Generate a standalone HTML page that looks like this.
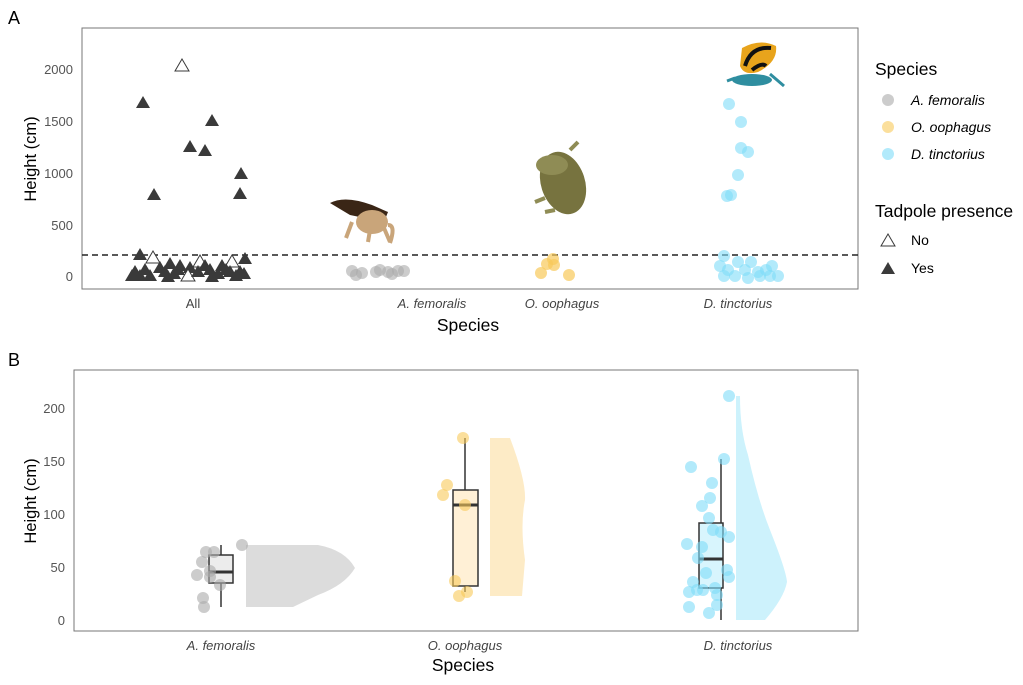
<!DOCTYPE html>
<html><head><meta charset="utf-8"><style>
html,body{margin:0;padding:0;background:#fff}
svg{display:block;font-family:"Liberation Sans",sans-serif}
</style></head><body>
<svg width="1023" height="685" viewBox="0 0 1023 685" xmlns="http://www.w3.org/2000/svg">
<defs>
<path id="tf" d="M0,-7 L7,5 L-7,5 Z" fill="#3a3a3a"/>
<path id="to" d="M0,-7 L7,5 L-7,5 Z" fill="#fff" stroke="#3a3a3a" stroke-width="1"/>
</defs>
<!-- Panel A -->
<text x="8" y="24" font-size="18">A</text>
<rect x="82" y="28" width="776" height="261" fill="none" stroke="#777" stroke-width="1"/>
<g font-size="13" fill="#555" text-anchor="end">
<text x="73" y="74">2000</text><text x="73" y="126">1500</text><text x="73" y="178">1000</text><text x="73" y="230">500</text><text x="73" y="281">0</text>
</g>
<text transform="translate(36,159) rotate(-90)" font-size="16.5" text-anchor="middle">Height (cm)</text>
<g font-size="13" fill="#444" text-anchor="middle">
<text x="193" y="308">All</text>
<text x="432" y="308" font-style="italic">A. femoralis</text>
<text x="562" y="308" font-style="italic">O. oophagus</text>
<text x="738" y="308" font-style="italic">D. tinctorius</text>
</g>
<text x="468" y="331" font-size="17.5" text-anchor="middle">Species</text>
<line x1="82" y1="255" x2="858" y2="255" stroke="#222" stroke-width="1.6" stroke-dasharray="6,4"/>
<use href="#to" x="182" y="66"/>
<use href="#tf" x="143" y="103"/>
<use href="#tf" x="212" y="121"/><use href="#tf" x="190" y="147"/><use href="#tf" x="205" y="151"/>
<use href="#tf" x="241" y="174"/><use href="#tf" x="154" y="195"/><use href="#tf" x="240" y="194"/>
<use href="#tf" x="140" y="255"/><use href="#to" x="153" y="258"/><use href="#tf" x="245" y="259"/>
<g>
<use href="#tf" x="135" y="272"/><use href="#tf" x="145" y="270"/><use href="#tf" x="160" y="268"/><use href="#tf" x="170" y="264"/>
<use href="#tf" x="180" y="266"/><use href="#tf" x="190" y="268"/><use href="#to" x="200" y="262"/><use href="#tf" x="210" y="270"/>
<use href="#tf" x="222" y="266"/><use href="#to" x="232" y="262"/><use href="#tf" x="240" y="272"/><use href="#tf" x="150" y="276"/>
<use href="#tf" x="178" y="270"/><use href="#to" x="188" y="276"/><use href="#tf" x="198" y="272"/><use href="#tf" x="218" y="274"/>
<use href="#tf" x="230" y="272"/><use href="#tf" x="244" y="274"/><use href="#tf" x="165" y="272"/><use href="#tf" x="205" y="266"/>
<use href="#tf" x="140" y="276"/><use href="#tf" x="236" y="276"/><use href="#tf" x="174" y="274"/>
<use href="#tf" x="132" y="276"/><use href="#tf" x="168" y="277"/><use href="#tf" x="212" y="277"/><use href="#tf" x="226" y="270"/>
</g>
<g fill="#aaa" fill-opacity="0.6">
<circle cx="352" cy="271" r="6"/><circle cx="356" cy="275" r="6"/><circle cx="362" cy="273" r="6"/><circle cx="376" cy="272" r="6"/><circle cx="380" cy="270" r="6"/><circle cx="388" cy="272" r="6"/><circle cx="392" cy="274" r="6"/><circle cx="398" cy="271" r="6"/><circle cx="404" cy="271" r="6"/>
</g>
<g fill="#f8c95a" fill-opacity="0.7">
<circle cx="541" cy="273" r="6"/><circle cx="547" cy="264" r="6"/><circle cx="553" cy="259" r="6"/><circle cx="554" cy="265" r="6"/><circle cx="569" cy="275" r="6"/>
</g>
<g fill="#7fdcf8" fill-opacity="0.6">
<circle cx="729" cy="104" r="6"/><circle cx="741" cy="122" r="6"/><circle cx="741" cy="148" r="6"/><circle cx="748" cy="152" r="6"/><circle cx="738" cy="175" r="6"/><circle cx="727" cy="196" r="6"/><circle cx="731" cy="195" r="6"/>
<circle cx="724" cy="256" r="6"/><circle cx="720" cy="266" r="6"/><circle cx="728" cy="270" r="6"/><circle cx="738" cy="262" r="6"/><circle cx="745" cy="270" r="6"/><circle cx="751" cy="262" r="6"/><circle cx="758" cy="272" r="6"/><circle cx="766" cy="270" r="6"/><circle cx="772" cy="266" r="6"/><circle cx="770" cy="276" r="6"/><circle cx="724" cy="276" r="6"/><circle cx="735" cy="276" r="6"/><circle cx="748" cy="278" r="6"/><circle cx="760" cy="276" r="6"/><circle cx="778" cy="276" r="6"/>
</g>
<g>
<path d="M330,203 Q345,195 372,205 L388,212 L384,222 L350,215 Z" fill="#3a2616"/>
<ellipse cx="372" cy="222" rx="16" ry="12" fill="#c9a57a"/>
<path d="M352,222 l-6,16 M370,230 l-2,12 M384,228 l6,14 M388,225 q8,0 2,18" stroke="#c9a57a" stroke-width="4" fill="none"/>
<ellipse cx="563" cy="183" rx="22" ry="32" fill="#77733f" transform="rotate(-18 563 183)"/>
<ellipse cx="552" cy="165" rx="16" ry="10" fill="#8f8c55"/>
<path d="M570,150 l8,-8 M545,198 l-10,4 M555,210 l-10,2" stroke="#8f8c55" stroke-width="4"/>
<path d="M742,48 Q760,38 776,46 Q778,62 758,72 Q744,76 740,66 Z" fill="#e8a41c"/>
<path d="M745,66 q6,-20 26,-18 M752,70 q10,-8 14,-4" stroke="#111" stroke-width="4" fill="none"/>
<ellipse cx="752" cy="80" rx="20" ry="6" fill="#2f8ea0"/>
<path d="M770,74 l14,12 M735,78 l-8,3" stroke="#2f8ea0" stroke-width="3"/>
</g>
<!-- Legend -->
<text x="875" y="75" font-size="17.5">Species</text>
<circle cx="888" cy="100" r="6" fill="#aaa" fill-opacity="0.6"/>
<circle cx="888" cy="127" r="6" fill="#f8c95a" fill-opacity="0.6"/>
<circle cx="888" cy="154" r="6" fill="#7fdcf8" fill-opacity="0.6"/>
<g font-size="14" font-style="italic">
<text x="911" y="105">A. femoralis</text><text x="911" y="132">O. oophagus</text><text x="911" y="159">D. tinctorius</text>
</g>
<text x="875" y="217" font-size="17.5">Tadpole presence</text>
<use href="#to" x="888" y="241"/><use href="#tf" x="888" y="269"/>
<text x="911" y="245" font-size="14">No</text><text x="911" y="273" font-size="14">Yes</text>

<!-- Panel B -->
<text x="8" y="366" font-size="18">B</text>
<rect x="74" y="370" width="784" height="261" fill="none" stroke="#777" stroke-width="1"/>
<g font-size="13" fill="#555" text-anchor="end">
<text x="65" y="413">200</text><text x="65" y="466">150</text><text x="65" y="519">100</text><text x="65" y="572">50</text><text x="65" y="625">0</text>
</g>
<text transform="translate(36,501) rotate(-90)" font-size="16.5" text-anchor="middle">Height (cm)</text>
<g font-size="13" fill="#444" text-anchor="middle" font-style="italic">
<text x="221" y="650">A. femoralis</text><text x="465" y="650">O. oophagus</text><text x="738" y="650">D. tinctorius</text>
</g>
<text x="463" y="671" font-size="17.5" text-anchor="middle">Species</text>
<path d="M246,545 L318,545 Q345,550 355,568 Q345,585 318,595 L293,607 L246,607 Z" fill="#dcdcdc"/>
<path d="M490,438 L510,438 Q526,480 525,500 Q520,525 525,560 L522,596 L490,596 Z" fill="#fdebc6"/>
<path d="M736,620 L736,396 L740,396 Q740,430 748,455 Q758,500 770,530 Q786,570 787,582 Q784,598 765,620 Z" fill="#cdf2fc"/>
<g stroke="#333" stroke-width="1.5">
<line x1="221" y1="545" x2="221" y2="607"/>
<rect x="209" y="555" width="24" height="28" fill="#ececec"/>
<line x1="209" y1="572" x2="233" y2="572" stroke-width="3"/>
<line x1="465" y1="438" x2="465" y2="592"/>
<rect x="453" y="490" width="25" height="96" fill="#fff0d6"/>
<line x1="453" y1="505" x2="478" y2="505" stroke-width="3"/>
<line x1="721" y1="459" x2="721" y2="620"/>
<rect x="699" y="523" width="24" height="65" fill="#d8f5fd"/>
<line x1="699" y1="559" x2="723" y2="559" stroke-width="3"/>
</g>
<g fill="#aaa" fill-opacity="0.6">
<circle cx="242" cy="545" r="6"/><circle cx="206" cy="552" r="6"/><circle cx="214" cy="552" r="6"/><circle cx="202" cy="562" r="6"/><circle cx="197" cy="575" r="6"/><circle cx="210" cy="571" r="6"/><circle cx="210" cy="577" r="6"/><circle cx="220" cy="585" r="6"/><circle cx="203" cy="598" r="6"/><circle cx="204" cy="607" r="6"/>
</g>
<g fill="#f8c95a" fill-opacity="0.6">
<circle cx="463" cy="438" r="6"/><circle cx="447" cy="485" r="6"/><circle cx="443" cy="495" r="6"/><circle cx="465" cy="505" r="6"/><circle cx="455" cy="581" r="6"/><circle cx="467" cy="592" r="6"/><circle cx="459" cy="596" r="6"/>
</g>
<g fill="#7fdcf8" fill-opacity="0.6">
<circle cx="729" cy="396" r="6"/><circle cx="724" cy="459" r="6"/><circle cx="691" cy="467" r="6"/><circle cx="712" cy="483" r="6"/><circle cx="710" cy="498" r="6"/><circle cx="702" cy="506" r="6"/><circle cx="709" cy="518" r="6"/><circle cx="713" cy="530" r="6"/><circle cx="721" cy="532" r="6"/><circle cx="729" cy="537" r="6"/><circle cx="687" cy="544" r="6"/><circle cx="702" cy="547" r="6"/><circle cx="698" cy="558" r="6"/><circle cx="727" cy="570" r="6"/><circle cx="706" cy="573" r="6"/><circle cx="729" cy="577" r="6"/><circle cx="693" cy="582" r="6"/><circle cx="689" cy="592" r="6"/><circle cx="697" cy="590" r="6"/><circle cx="703" cy="590" r="6"/><circle cx="715" cy="588" r="6"/><circle cx="717" cy="595" r="6"/><circle cx="689" cy="607" r="6"/><circle cx="717" cy="605" r="6"/><circle cx="709" cy="613" r="6"/>
</g>
</svg>
</body></html>
